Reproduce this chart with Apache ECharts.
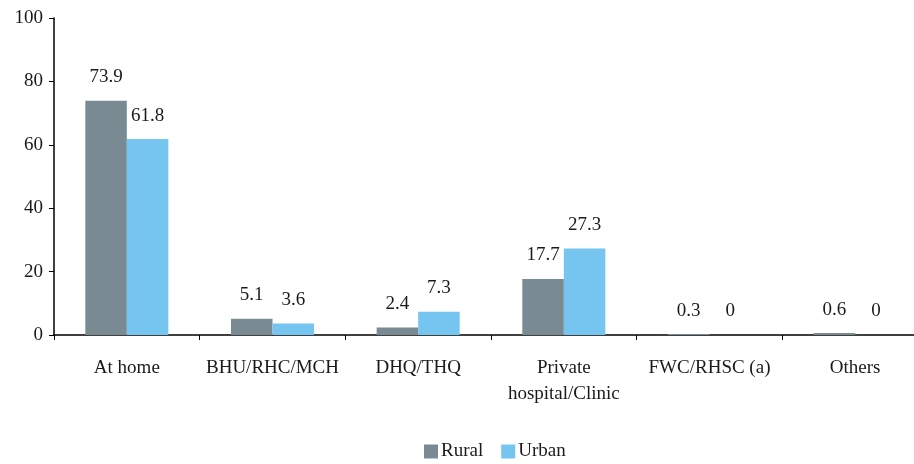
<!DOCTYPE html>
<html>
<head>
<meta charset="utf-8">
<script src="https://cdn.jsdelivr.net/npm/echarts@6/dist/echarts.min.js"></script>
<style>
  html, body { margin: 0; padding: 0; background: #fff; }
  #chart { width: 914px; height: 464px; }
</style>
</head>
<body>
<div id="chart"></div>
<script>
// Place of delivery, rural vs urban (%)
const categories = ['At home', 'BHU/RHC/MCH', 'DHQ/THQ', 'Private\nhospital/Clinic', 'FWC/RHSC (a)', 'Others'];
const ruralValues = [73.9, 5.1, 2.4, 17.7, 0.3, 0.6];
const urbanValues = [61.8, 3.6, 7.3, 27.3, 0, 0];
const yTicks = { min: 0, max: 100, interval: 20 };

const FONT = '"Liberation Serif", "DejaVu Serif", serif';
const TEXT = '#1a1a1a';
const FS = 19;

const labelStyle = {
  show: true,
  position: 'top',
  distance: 14,
  fontFamily: FONT,
  fontSize: FS,
  color: TEXT
};

const chart = echarts.init(document.getElementById('chart'));
chart.setOption({
  animation: false,
  textStyle: { fontFamily: FONT },
  // the plot runs past the right edge of the canvas; last band is clipped
  grid: { left: 54, top: 18, width: 874, height: 317, containLabel: false, outerBoundsMode: 'none' },
  legend: {
    bottom: -2,
    left: 419,
    itemWidth: 14,
    itemHeight: 14,
    itemGap: 18,
    icon: 'rect',
    textStyle: { fontFamily: FONT, fontSize: FS, color: TEXT, padding: [0, 0, 0, -2] },
    data: ['Rural', 'Urban']
  },
  xAxis: {
    type: 'category',
    data: categories,
    axisLine: { lineStyle: { color: '#000', width: 1.5 } },
    axisTick: { show: true, length: 5, lineStyle: { color: '#000' } },
    axisLabel: { fontFamily: FONT, fontSize: FS, color: TEXT, margin: 20, lineHeight: 26, interval: 0 }
  },
  yAxis: {
    type: 'value',
    min: yTicks.min,
    max: yTicks.max,
    interval: yTicks.interval,
    axisLine: { show: true, lineStyle: { color: '#000', width: 1.5 } },
    axisTick: { show: true, length: 5, lineStyle: { color: '#000' } },
    splitLine: { show: false },
    axisLabel: { fontFamily: FONT, fontSize: FS, color: TEXT, margin: 11 }
  },
  series: [
    {
      name: 'Rural',
      type: 'bar',
      data: ruralValues,
      barGap: '0%',
      barCategoryGap: '43%',
      itemStyle: { color: '#798a92' },
      label: labelStyle
    },
    {
      name: 'Urban',
      type: 'bar',
      data: urbanValues,
      itemStyle: { color: '#75c5f0' },
      label: labelStyle
    }
  ]
});
</script>
</body>
</html>
